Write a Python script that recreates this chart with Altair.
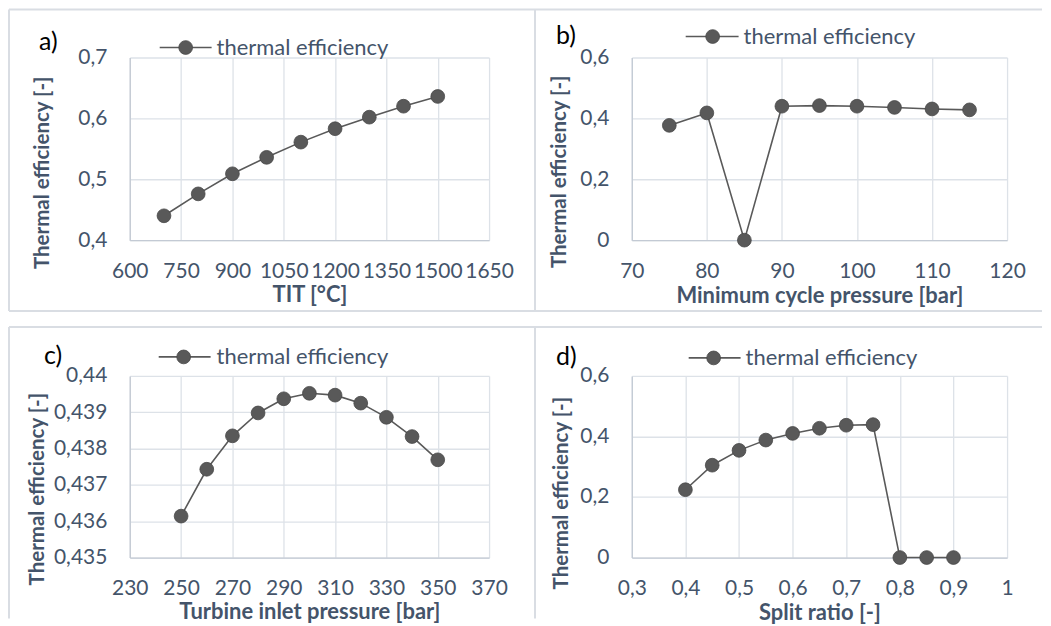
import altair as alt
import pandas as pd

# ---------------- data ----------------
a_x = [700, 800, 900, 1000, 1100, 1200, 1300, 1400, 1500]
a_y = [0.440, 0.476, 0.509, 0.536, 0.561, 0.583, 0.602, 0.620, 0.636]
a_xticks = [600, 750, 900, 1050, 1200, 1350, 1500, 1650]
a_yticks = [0.4, 0.5, 0.6, 0.7]

b_x = [75, 80, 85, 90, 95, 100, 105, 110, 115]
b_y = [0.377, 0.418, 0.0, 0.440, 0.442, 0.440, 0.436, 0.431, 0.428]
b_xticks = [70, 80, 90, 100, 110, 120]
b_yticks = [0, 0.2, 0.4, 0.6]

c_x = [250, 260, 270, 280, 290, 300, 310, 320, 330, 340, 350]
c_y = [0.43614, 0.43743, 0.43835, 0.43898, 0.43937, 0.43952,
       0.43947, 0.43925, 0.43886, 0.43833, 0.43769]
c_xticks = [230, 250, 270, 290, 310, 330, 350, 370]
c_yticks = [0.435, 0.436, 0.437, 0.438, 0.439, 0.44]

d_x = [0.40, 0.45, 0.50, 0.55, 0.60, 0.65, 0.70, 0.75, 0.80, 0.85, 0.90]
d_y = [0.224, 0.305, 0.354, 0.388, 0.410, 0.427, 0.437, 0.439, 0.0, 0.0, 0.0]
d_xticks = [0.3, 0.4, 0.5, 0.6, 0.7, 0.8, 0.9, 1.0]
d_yticks = [0, 0.2, 0.4, 0.6]

series_name = "thermal efficiency"
y_title = "Thermal efficiency [-]"

# ---------------- style ----------------
TXT = "#44546A"
MARK = "#595959"
FRAME = "#d9dde3"
FONT = "Lato"

COMMA = "replace(format(datum.value, '.3~f'), '.', ',')"
INTF = "format(datum.value, 'd')"

one = pd.DataFrame({"label": [series_name]})


def hrule(x1, x2, y):
    return alt.Chart(one).mark_rule(color=FRAME, strokeWidth=2).encode(
        x=alt.value(x1), x2=alt.value(x2), y=alt.value(y))


def vrule(x, y1, y2):
    return alt.Chart(one).mark_rule(color=FRAME, strokeWidth=2).encode(
        x=alt.value(x), y=alt.value(y1), y2=alt.value(y2))


def panel(xs, ys, xdom, xticks, xfmt, ydom, yticks, xtitle, tag,
          w, h, frames, leg, lab, ytx, yty, xty):
    df = pd.DataFrame({"x": xs, "y": ys})
    base = alt.Chart(df)
    x = alt.X("x:Q", scale=alt.Scale(domain=xdom, nice=False, zero=False),
              axis=alt.Axis(values=xticks, title=xtitle, labelExpr=xfmt,
                            labelPadding=20, titleFontSize=22,
                            titleY=xty, titleBaseline="middle"))
    y = alt.Y("y:Q", scale=alt.Scale(domain=ydom, nice=False, zero=False),
              axis=alt.Axis(values=yticks, title=y_title, labelExpr=COMMA,
                            labelPadding=23, titleFontSize=20.5,
                            titleX=ytx, titleY=yty, titleBaseline="middle",
                            titleAngle=270))
    line = base.mark_line(color=MARK, strokeWidth=1.6).encode(x=x, y=y)
    pts = base.mark_circle(size=190, color=MARK, opacity=1,
                           stroke="#474747", strokeWidth=0.8).encode(x=x, y=y)
    lx1, lx2, ly, cx, tx = leg
    leg_line = alt.Chart(one).mark_rule(color=MARK, strokeWidth=1.6).encode(
        x=alt.value(lx1), x2=alt.value(lx2), y=alt.value(ly))
    leg_pt = alt.Chart(one).mark_circle(size=190, color=MARK, opacity=1,
                                        stroke="#474747", strokeWidth=0.8).encode(
        x=alt.value(cx), y=alt.value(ly))
    leg_txt = alt.Chart(one).mark_text(align="left", baseline="middle", font=FONT,
                                       fontSize=22, color=TXT).encode(
        x=alt.value(tx), y=alt.value(ly), text="label:N")
    lab_txt = alt.Chart(pd.DataFrame({"t": [tag]})).mark_text(
        align="left", baseline="middle", font=FONT, fontSize=25, color="black").encode(
        x=alt.value(lab[0]), y=alt.value(lab[1]), text="t:N")
    return alt.layer(*frames, line, pts, leg_line, leg_pt, leg_txt, lab_txt).properties(
        width=w, height=h)


W1, W2 = 360, 376
H1, H2 = 183, 182

pa = panel(a_x, a_y, [600, 1650], a_xticks, INTF, [0.4, 0.7], a_yticks,
           "TIT [°C]", "a)", W1, H1,
           [hrule(-121, 406, -48), vrule(-121, -48, 254), hrule(-121, 406, 254)],
           (30, 82, -10, 56, 87), (-91, -16), -87, 115, 54)

pb = panel(b_x, b_y, [70, 120], b_xticks, COMMA, [0, 0.6], b_yticks,
           "Minimum cycle pressure [bar]", "b)", W2, H1,
           [hrule(-97, 411, -48), vrule(-97, -48, 254), hrule(-97, 411, 254)],
           (54, 107, -21, 81, 112), (-76, -22), -72, 114, 55)

pc = panel(c_x, c_y, [230, 370], c_xticks, COMMA, [0.435, 0.44], c_yticks,
           "Turbine inlet pressure [bar]", "c)", W1, H2,
           [hrule(-121, 406, -49), vrule(-121, -49, 243)],
           (29, 81, -19, 54, 87), (-86, -20), -92, 113, 54)

pd_ = panel(d_x, d_y, [0.3, 1.0], d_xticks, COMMA, [0, 0.6], d_yticks,
            "Split ratio [-]", "d)", W2, H2,
            [hrule(-97, 411, -49), vrule(-97, -49, 243)],
            (57, 109, -18, 82, 114), (-76, -19), -70, 117, 55)

chart = alt.concat(pa, pb, pc, pd_, columns=2,
                   spacing={"row": 136, "column": 143},
                   bounds="flush", align="each").properties(
    padding=0, background="white"
).configure_view(stroke=None).configure_axis(
    labelFont=FONT, labelFontSize=21, labelColor=TXT,
    ticks=False, tickSize=0, domainColor="#c3cad4", domainWidth=1.3,
    gridColor="#dde2e8", gridWidth=1.3, labelOverlap=False, labelFlush=False,
    labelBound=False, titleFont=FONT, titleFontWeight="bold",
    titleColor=TXT
)

chart.save("out.html", embed_options={"renderer": "svg", "actions": False})
